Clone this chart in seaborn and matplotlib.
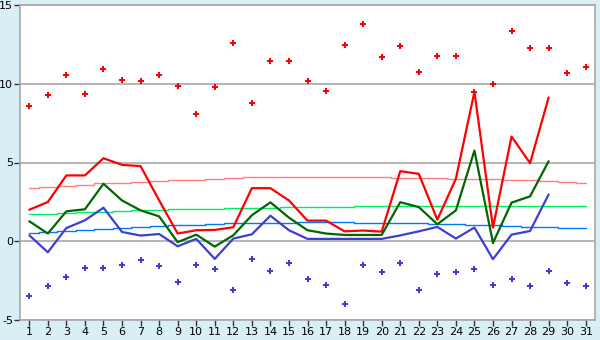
import numpy as np
import pandas as pd
import matplotlib
matplotlib.use("Agg")
import matplotlib.pyplot as plt
import seaborn as sns

days = list(range(1, 32))

max_vals = [8.59, 9.28, 10.55, 9.35, 10.93, 10.23, 10.17, 10.55, 9.85, 8.08,
            9.79, 12.58, 8.78, 11.44, 11.44, 10.17, 9.54, 12.45, 13.78, 11.69,
            12.39, 10.74, 11.75, 11.75, 9.47, 9.98, 13.33, 12.26, 12.26, 10.68, 11.06]
min_vals = [-3.50, -2.87, -2.30, -1.73, -1.73, -1.48, -1.22, -1.60, -2.61, -1.48,
            -1.79, -3.12, -1.10, -1.92, -1.41, -2.42, -2.80, -4.01, -1.48, -1.98,
            -1.41, -3.12, -2.11, -1.98, -1.79, -2.80, -2.42, -2.87, -1.92, -2.68, -2.87]

line_days = list(range(1, 30))
red_line = [2.00, 2.49, 4.18, 4.18, 5.27, 4.85, 4.77, 2.60, 0.49, 0.70,
            0.72, 0.89, 3.37, 3.37, 2.59, 1.31, 1.31, 0.63, 0.68, 0.61,
            4.45, 4.28, 1.37, 3.97, 9.49, 0.87, 6.65, 4.96, 9.13]
green_line = [1.27, 0.49, 1.90, 2.03, 3.65, 2.59, 1.96, 1.58, -0.06, 0.42,
              -0.34, 0.38, 1.65, 2.47, 1.50, 0.70, 0.49, 0.40, 0.40, 0.40,
              2.48, 2.17, 1.08, 1.96, 5.76, -0.11, 2.45, 2.85, 5.08]
blue_line = [0.38, -0.70, 0.84, 1.33, 2.13, 0.59, 0.36, 0.46, -0.32, 0.15,
             -1.12, 0.17, 0.44, 1.62, 0.70, 0.15, 0.15, 0.15, 0.15, 0.15,
             0.37, 0.63, 0.91, 0.17, 0.87, -1.14, 0.42, 0.65, 2.97]

pink_norm = [3.37, 3.45, 3.53, 3.60, 3.67, 3.73, 3.78, 3.83, 3.88, 3.92,
             3.96, 4.00, 4.05, 4.08, 4.10, 4.10, 4.10, 4.10, 4.08, 4.06,
             4.04, 4.02, 4.00, 3.98, 3.96, 3.94, 3.91, 3.88, 3.84, 3.78, 3.71]
green_norm = [1.71, 1.76, 1.80, 1.84, 1.88, 1.92, 1.96, 1.99, 2.02, 2.05,
              2.07, 2.10, 2.12, 2.14, 2.16, 2.18, 2.19, 2.20, 2.21, 2.22,
              2.22, 2.22, 2.22, 2.22, 2.22, 2.22, 2.22, 2.22, 2.22, 2.22, 2.22]
blue_norm = [0.50, 0.58, 0.66, 0.73, 0.80, 0.86, 0.92, 0.97, 1.01, 1.06,
             1.10, 1.13, 1.16, 1.18, 1.19, 1.20, 1.20, 1.20, 1.19, 1.18,
             1.17, 1.15, 1.12, 1.09, 1.05, 1.01, 0.97, 0.93, 0.89, 0.85, 0.82]

y_ticks = [-5, 0, 5, 10, 15]

sns.set_style("white")
plt.rcParams['font.family'] = ['DejaVu Sans']

bg = "#d9eff6"
fig = plt.figure(figsize=(6, 3.4), dpi=100, facecolor=bg)
ax = fig.add_axes([20/600, 20/340, 575/600, 315/340])
ax.set_facecolor("white")

for yv in y_ticks:
    ax.axhline(yv, color="#a8a8a8", lw=1.2, zorder=0)

norm_df = pd.DataFrame({"day": days, "pink": pink_norm, "green": green_norm, "blue": blue_norm})
sns.lineplot(data=norm_df, x="day", y="pink", ax=ax, color="#ff8080", lw=1.0, drawstyle="steps-mid")
sns.lineplot(data=norm_df, x="day", y="green", ax=ax, color="#00ee66", lw=1.0, drawstyle="steps-mid")
sns.lineplot(data=norm_df, x="day", y="blue", ax=ax, color="#0077ff", lw=1.0, drawstyle="steps-mid")

line_df = pd.DataFrame({"day": line_days, "red": red_line, "green": green_line, "blue": blue_line})
sns.lineplot(data=line_df, x="day", y="red", ax=ax, color="#ff0000", lw=1.6)
sns.lineplot(data=line_df, x="day", y="green", ax=ax, color="#006600", lw=1.6)
sns.lineplot(data=line_df, x="day", y="blue", ax=ax, color="#3f3fcf", lw=1.6)

pts_df = pd.DataFrame({"day": days, "max": max_vals, "min": min_vals})
sns.scatterplot(data=pts_df, x="day", y="max", ax=ax, color="#ff0000", marker="P", s=20, linewidth=0, zorder=5)
sns.scatterplot(data=pts_df, x="day", y="min", ax=ax, color="#3f3fcf", marker="P", s=20, linewidth=0, zorder=5)

ax.set_xlim(0.5, 31.5)
ax.set_ylim(-5, 15)
ax.set_xticks(days)
ax.set_xticklabels([str(d) for d in days])
ax.set_yticks(y_ticks)
ax.set_yticklabels([str(v) for v in y_ticks])
ax.set_xlabel("")
ax.set_ylabel("")
ax.tick_params(axis="both", which="both", length=4, width=1, color="#333333",
               labelsize=8, labelcolor="#000000", direction="out", pad=1)
ax.tick_params(axis="y", left=True)
ax.tick_params(axis="x", bottom=True)
for s in ax.spines.values():
    s.set_color("#a8a8a8")
    s.set_linewidth(1.2)

fig.savefig("out.png", dpi=100, facecolor=bg)
